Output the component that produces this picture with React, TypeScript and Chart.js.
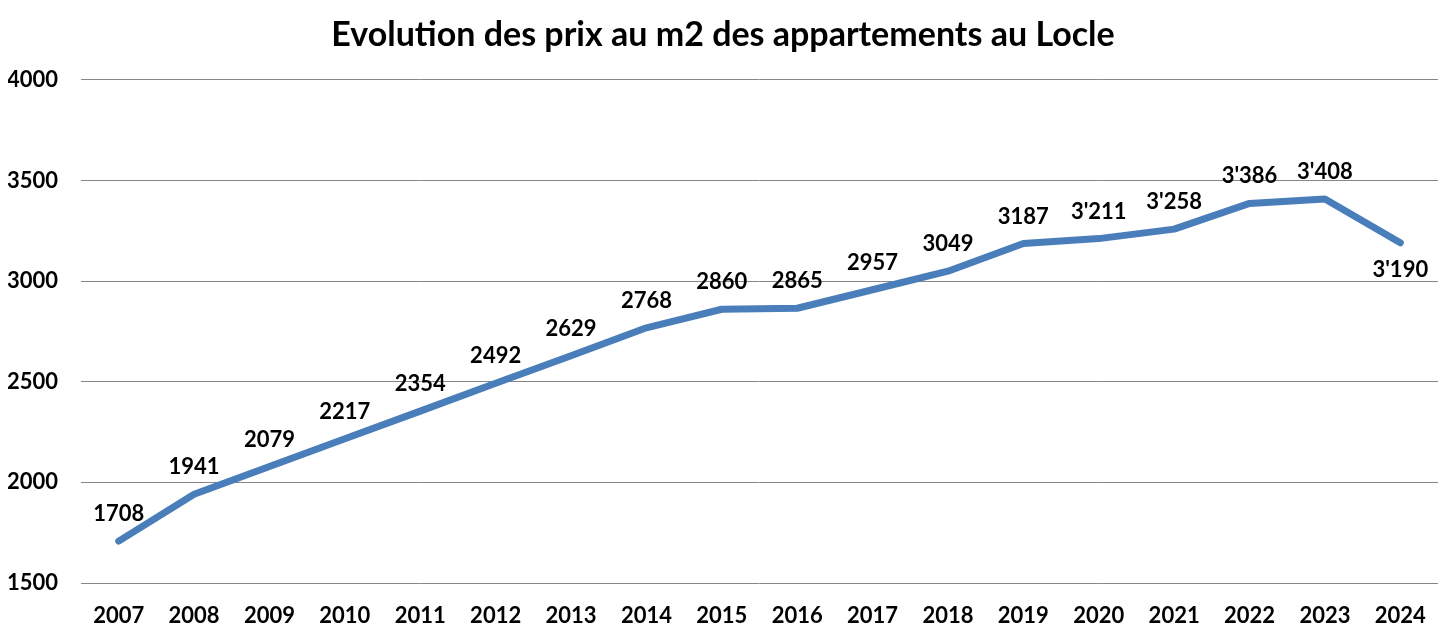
import React, { useEffect, useRef } from "react";
import { Chart, registerables } from "chart.js";

Chart.register(...registerables);

const years = ["2007","2008","2009","2010","2011","2012","2013","2014","2015","2016","2017","2018","2019","2020","2021","2022","2023","2024"];
const prices = [1708,1941,2079,2217,2354,2492,2629,2768,2860,2865,2957,3049,3187,3211,3258,3386,3408,3190];
const priceLabels = ["1708","1941","2079","2217","2354","2492","2629","2768","2860","2865","2957","3049","3187","3'211","3'258","3'386","3'408","3'190"];
const labelBelow = [false,false,false,false,false,false,false,false,false,false,false,false,false,false,false,false,false,true];
const title = "Evolution des prix au m2 des appartements au Locle";

const FONT = "Lato, 'Open Sans', sans-serif";

const dataLabelPlugin = {
  id: "dataLabels",
  afterDatasetsDraw(chart: any) {
    const ctx = chart.ctx;
    const meta = chart.getDatasetMeta(0);
    ctx.save();
    ctx.font = `bold 22px ${FONT}`;
    ctx.fillStyle = "#000";
    ctx.textAlign = "center";
    ctx.textBaseline = "middle";
    meta.data.forEach((pt: any, i: number) => {
      const dy = labelBelow[i] ? 27 : -27;
      ctx.fillText(priceLabels[i], pt.x, pt.y + dy);
    });
    ctx.restore();
  },
};

export default function App() {
  const ref = useRef<HTMLCanvasElement>(null);
  useEffect(() => {
    document.body.style.margin = "0";
    const chart = new Chart(ref.current!, {
      type: "line",
      data: {
        labels: years,
        datasets: [
          {
            data: prices,
            borderColor: "#4a7ebb",
            borderWidth: 7,
            pointRadius: 0,
            tension: 0,
            borderCapStyle: "round",
            borderJoinStyle: "round",
            fill: false,
          },
        ],
      },
      options: {
        animation: false,
        responsive: false,
        maintainAspectRatio: false,
        layout: { padding: { left: 8, right: 18, top: 0, bottom: 0 } },
        plugins: {
          legend: { display: false },
          tooltip: { enabled: false },
          title: {
            display: true,
            text: title,
            color: "#000",
            font: { family: FONT, size: 34, weight: "bold" },
            padding: { top: 15, bottom: 24 },
          },
        },
        scales: {
          x: {
            offset: true,
            grid: { display: false, drawTicks: false },
            border: { display: false },
            afterFit: (s: any) => { s.height = 56; },
            ticks: {
              color: "#000",
              font: { family: FONT, size: 22, weight: "bold" },
              padding: 20,
              maxRotation: 0,
              autoSkip: false,
            },
          },
          y: {
            min: 1500,
            max: 4000,
            grid: { color: "#868686", lineWidth: 1, drawTicks: false },
            border: { display: false },
            afterFit: (s: any) => { s.width = 73; },
            ticks: {
              stepSize: 500,
              color: "#000",
              font: { family: FONT, size: 22, weight: "bold" },
              padding: 23,
              callback: (v: any) => String(v),
            },
          },
        },
      },
      plugins: [dataLabelPlugin],
    });
    return () => chart.destroy();
  }, []);
  return (
    <div style={{ width: 1456, height: 639 }}>
      <canvas ref={ref} width={1456} height={639} style={{ display: "block" }} />
    </div>
  );
}
